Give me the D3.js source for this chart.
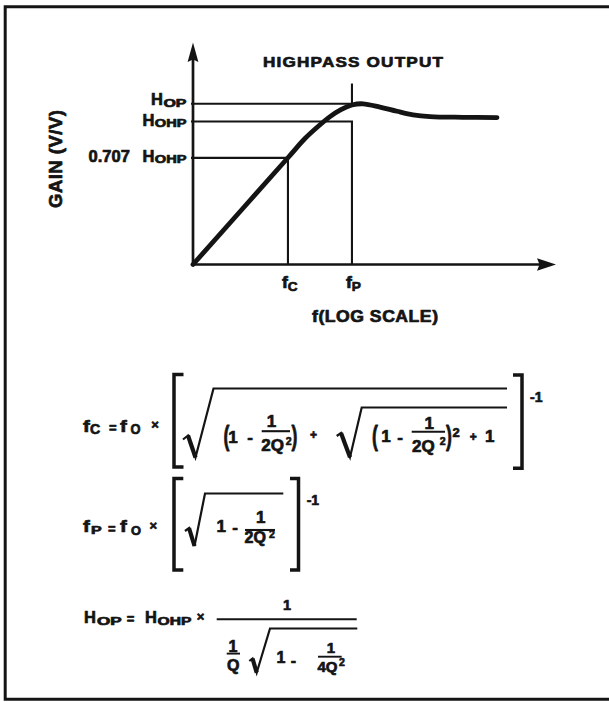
<!DOCTYPE html>
<html><head><meta charset="utf-8">
<script src="https://cdn.jsdelivr.net/npm/d3@7"></script>
<style>html,body{margin:0;padding:0;background:#fff;} svg{display:block}</style>
</head><body>
<svg id="c" width="609" height="702"></svg>
<script>
// ---------------- data ----------------
const fDomain = [0.33, 9.2];          // normalised frequency f/fO at the axis ends (log scale)
const gainDomain = [-11.85, 6.55];    // gain in dB relative to HOHP at the axis ends
const curveFreq = [0.33, 0.788, 0.921, 1.038, 1.159, 1.281, 1.417, 1.568, 1.832, 2.141, 2.479, 2.898, 3.921, 5.356];
const curveGain = [-11.85, -3.0, -1.41, -0.41, 0.41, 0.99, 1.37, 1.47, 1.20, 0.85, 0.56, 0.41, 0.35, 0.33];
const levelNames = ["HOP", "HOHP", "0.707 HOHP"];
const levelGain = [1.47, 0, -3.01];
const levelMarker = [1, 1, 0];          // which marker frequency each level line runs to
const levelDrop = [false, true, true];  // level line turns down to the axis
const markerNames = ["fC", "fP"];
const markerFreq = [0.788, 1.417];
const fpTickTop = 3.15;                 // dB, top of the fP tick above HOP
const chartTitle = "HIGHPASS OUTPUT";
const xTitle = "f(LOG SCALE)";
const yTitle = "GAIN (V/V)";

// ---------------- setup ----------------
const INK = '#141414';
const FONT = "'Liberation Sans', Arial, Helvetica, sans-serif";
const svg = d3.select('#c');
svg.append('rect').attr('width', 609).attr('height', 702).attr('fill', '#fff');

const x = d3.scaleLog().domain(fDomain).range([193, 556]);
const y = d3.scaleLinear().domain(gainDomain).range([264.5, 42.5]);

function txt(g, px, py, s, size, o = {}) {
  const sx = o.sx || 1;
  const tr = o.rot
    ? `translate(${px},${py}) rotate(${o.rot}) scale(${sx},1)`
    : `translate(${px},${py}) scale(${sx},1)`;
  const t = g.append('text').text(s)
    .attr('font-family', FONT).attr('font-weight', 'bold')
    .attr('font-size', size).attr('fill', INK)
    .attr('stroke', INK).attr('stroke-width', o.sw == null ? 0.7 : o.sw)
    .attr('stroke-linejoin', 'round')
    .attr('text-anchor', o.anchor || 'start')
    .attr('transform', tr);
  if (o.len) t.attr('textLength', o.len / sx).attr('lengthAdjust', 'spacing');
  return t;
}
function comp(g, px, py, parts, anchor) {
  const nodes = parts.map(p => txt(g, 0, 0, p.t, p.size, { sx: p.sx || 1 }));
  const widths = nodes.map((n, i) => n.node().getComputedTextLength() * (parts[i].sx || 1));
  const total = widths.reduce((a, w, i) => a + w + (parts[i].gap || 0), 0);
  let cx = anchor === 'end' ? px - total : anchor === 'middle' ? px - total / 2 : px;
  nodes.forEach((n, i) => {
    cx += parts[i].gap || 0;
    n.attr('transform', `translate(${cx},${py + (parts[i].dy || 0)}) scale(${parts[i].sx || 1},1)`);
    cx += widths[i];
  });
}
function path(g, d, w) {
  return g.append('path').attr('d', d).attr('fill', 'none').attr('stroke', INK)
    .attr('stroke-width', w).attr('stroke-linejoin', 'miter').attr('stroke-linecap', 'butt');
}
function hline(g, x1, x2, yy, w) { path(g, `M${x1},${yy}H${x2}`, w); }

// ---------------- frame ----------------
const frame = svg.append('g');
path(frame, 'M609,6.8H5.2V699.2H609', 3);

// ---------------- chart ----------------
const chart = svg.append('g');
const x0 = x(fDomain[0]), x1 = x(fDomain[1]);
const y0 = y(gainDomain[0]), y1 = y(gainDomain[1]);

// reference lines
levelGain.forEach((g, i) => {
  const mx = x(markerFreq[levelMarker[i]]);
  path(chart, `M${x0 - 2},${y(g)}H${mx}` + (levelDrop[i] ? `V${y0}` : ''), 2.1);
});
path(chart, `M${x(markerFreq[1])},${y(fpTickTop)}V${y(levelGain[0])}`, 2.1);

// axes with arrows
path(chart, `M${x0},${y1 + 14}V${y0}H${x1 - 14}`, 2.7);
chart.append('path').attr('fill', INK)
  .attr('d', `M${x0},${y1}L${x0 + 5.4},${y1 + 19.5}L${x0},${y1 + 17}L${x0 - 5.4},${y1 + 19.5}Z`);
chart.append('path').attr('fill', INK)
  .attr('d', `M${x1},${y0}L${x1 - 19},${y0 - 6.2}L${x1 - 16.5},${y0}L${x1 - 19},${y0 + 6.2}Z`);

// response curve
const line = d3.line().x(d => x(d[0])).y(d => y(d[1])).curve(d3.curveCatmullRom.alpha(0.5));
chart.append('path').datum(curveFreq.map((f, i) => [f, curveGain[i]]))
  .attr('d', line).attr('fill', 'none').attr('stroke', INK)
  .attr('stroke-width', 4.8).attr('stroke-linecap', 'round').attr('stroke-linejoin', 'round');

// level labels
const levelDy = [1.7, 4, 3.7];
levelNames.forEach((name, i) => {
  const words = name.split(' ');
  const last = words.pop();
  const parts = [];
  if (words.length) parts.push({ t: words.join(' '), size: 16.5 });
  parts.push({ t: last[0], size: 16.5, gap: words.length ? 12.5 : 0 });
  parts.push({ t: last.slice(1), size: 11, dy: 1.2, sx: last.length > 3 ? 1.33 : 1.45, gap: 0.5 });
  comp(chart, x0 - 6.5, y(levelGain[i]) + levelDy[i], parts, 'end');
});

// marker labels
markerNames.forEach((name, i) => {
  comp(chart, x(markerFreq[i]) - 6, y0 + 23, [
    { t: name[0], size: 16, sx: 1.1 },
    { t: name.slice(1), size: 13, dy: 3, sx: 1.05 }
  ], 'start');
});

// titles
txt(chart, 263, 67.3, chartTitle, 14.8, { len: 180, sx: 1.16 });
txt(chart, 312, 322, xTitle, 16, { len: 126, sx: 1.1 });
txt(chart, 61.5, 159, yTitle, 18.5, { anchor: 'middle', rot: -90, len: 98 });

// ---------------- formulas ----------------
const fm = svg.append('g');
function paren(px, base, ch) { txt(fm, px, base, ch, 28.5, { sx: 0.62, sw: 0.9 }); }
function radical(sx0, sy0, tx, ty, bx, by, topX, topY, endX) {
  path(fm, `M${sx0},${sy0}L${tx},${ty}L${bx},${by}L${topX},${topY}H${endX}`, 2.2);
  path(fm, `M${tx},${ty}L${bx},${by}`, 4.2);
}
function bracketL(xv, top, bot, serif) { path(fm, `M${xv + serif},${top}H${xv}V${bot}H${xv + serif}`, 3.5); }
function bracketR(xv, top, bot, serif) { path(fm, `M${xv - serif},${top}H${xv}V${bot}H${xv - serif}`, 3.5); }

// fC = fO x [ sqrt( (1 - 1/2Q^2) + sqrt( (1 - 1/2Q^2)^2 + 1 ) ) ]^-1
txt(fm, 83, 432, 'f', 17, { sx: 1.2 }); txt(fm, 90, 434, 'C', 15, { sx: 0.95 });
txt(fm, 112.9, 431.5, '=', 13, { anchor: 'middle' });
txt(fm, 120, 432, 'f', 17, { sx: 1.2 }); txt(fm, 130.5, 434, 'O', 14, { sx: 0.92 });
txt(fm, 155, 428.5, '×', 13, { anchor: 'middle' });
bracketL(174, 374.5, 467, 9.5);
radical(183, 439.5, 188, 435.5, 195.5, 457.5, 213.5, 388.5, 507);
paren(223.5, 445, '(');
txt(fm, 228.3, 442.7, '1', 17);
txt(fm, 247.3, 443, '-', 17);
txt(fm, 271.5, 427, '1', 17, { anchor: 'middle' });
hline(fm, 261.7, 290, 431.2, 2.1);
txt(fm, 261.3, 450.7, '2Q', 17);
txt(fm, 285.8, 444.5, '2', 10.5);
paren(291.5, 445, ')');
txt(fm, 313.6, 438.5, '+', 12, { anchor: 'middle' });
radical(336.7, 436, 341, 433, 350, 457.3, 361.7, 407.5, 507);
paren(372, 445, '(');
txt(fm, 381.3, 442, '1', 17);
txt(fm, 397.3, 443, '-', 17);
txt(fm, 429.3, 429.3, '1', 17, { anchor: 'middle' });
hline(fm, 411.7, 445, 431.7, 2.1);
txt(fm, 412, 451.5, '2Q', 17);
txt(fm, 439.8, 445, '2', 10.5);
paren(446, 445, ')');
txt(fm, 452.5, 436.7, '2', 13);
txt(fm, 473.3, 441.3, '+', 12, { anchor: 'middle' });
txt(fm, 485, 442, '1', 17);
bracketR(522, 375, 468.3, 9);
txt(fm, 530, 401.7, '-1', 14);

// fP = fO x [ sqrt(1 - 1/2Q^2) ]^-1
txt(fm, 83, 532, 'f', 17, { sx: 1.2 }); txt(fm, 91, 533.5, 'P', 11, { sx: 1.45 });
txt(fm, 111.7, 532.5, '=', 13, { anchor: 'middle' });
txt(fm, 120, 532, 'f', 17, { sx: 1.2 }); txt(fm, 131, 535, 'O', 12, { sx: 1.07 });
txt(fm, 153.3, 530, '×', 13, { anchor: 'middle' });
bracketL(174, 478.5, 570, 9.3);
radical(185, 531, 189, 528, 194.5, 546, 205, 493.5, 283.3);
txt(fm, 216.5, 531.7, '1', 17);
txt(fm, 232.3, 533, '-', 17);
txt(fm, 260.8, 523.3, '1', 17, { anchor: 'middle' });
hline(fm, 245, 275, 530, 2.1);
txt(fm, 244.5, 543.3, '2Q', 16);
txt(fm, 269, 538, '2', 10.5);
bracketR(298.5, 478.5, 570, 8.5);
txt(fm, 306.7, 505, '-1', 14);

// HOP = HOHP x 1 / ( (1/Q) sqrt(1 - 1/4Q^2) )
txt(fm, 84, 623.3, 'H', 16.5); txt(fm, 97, 625, 'OP', 11, { sx: 1.55 });
txt(fm, 130.5, 622.5, '=', 13, { anchor: 'middle' });
txt(fm, 145, 623.3, 'H', 16.5); txt(fm, 157.5, 625, 'OHP', 11, { sx: 1.42 });
txt(fm, 200.5, 621, '×', 13, { anchor: 'middle' });
txt(fm, 287, 610.3, '1', 14.5, { anchor: 'middle' });
hline(fm, 216.7, 356.7, 619.3, 2.1);
txt(fm, 233, 651.7, '1', 16, { anchor: 'middle' });
hline(fm, 226.7, 240, 653.6, 1.9);
txt(fm, 233.3, 671, 'Q', 16, { anchor: 'middle' });
radical(249.3, 661, 252.5, 658.5, 256.7, 672.7, 270, 628.5, 357.3);
txt(fm, 276.5, 663.3, '1', 16);
txt(fm, 290.7, 666, '-', 16);
txt(fm, 331, 653.3, '1', 15, { anchor: 'middle' });
hline(fm, 318, 341.7, 656.7, 1.9);
txt(fm, 317.5, 672, '4Q', 15);
txt(fm, 339, 666, '2', 10.5);
</script>
</body></html>
